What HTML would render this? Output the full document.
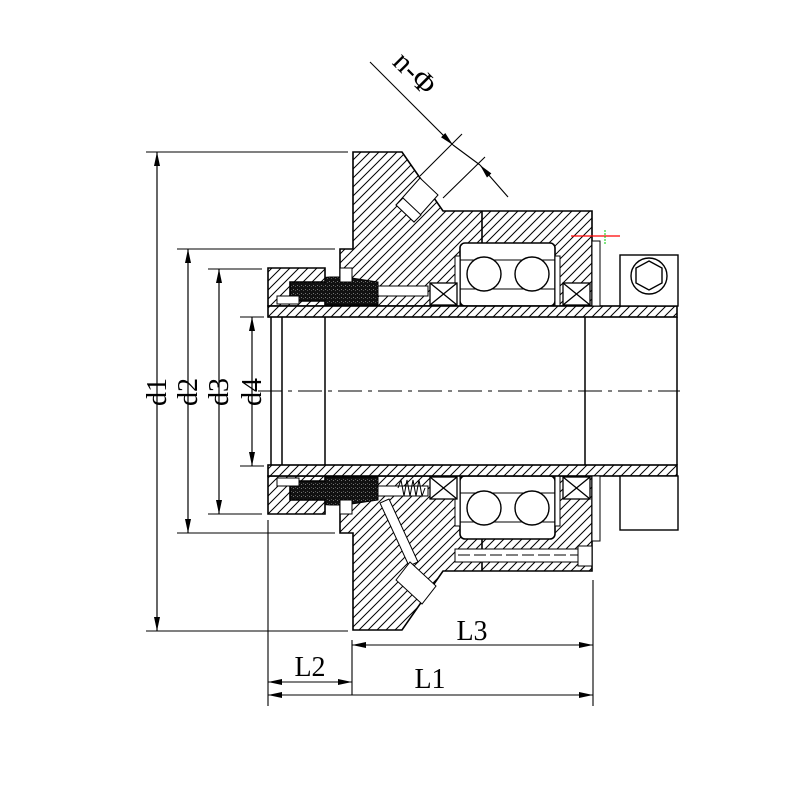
<!DOCTYPE html>
<html><head><meta charset="utf-8"><style>html,body{margin:0;padding:0;background:#fff}svg{display:block}</style></head><body>
<svg width="800" height="800" viewBox="0 0 800 800" xmlns="http://www.w3.org/2000/svg" font-family="Liberation Serif, serif">
<defs>
<pattern id="h1" width="9" height="9" patternUnits="userSpaceOnUse">
<rect width="9" height="9" fill="#fff"/><path d="M0,9L9,0M-2,2L2,-2M7,11L11,7" stroke="#000" stroke-width="1"/></pattern>
<pattern id="h2" width="9" height="9" patternUnits="userSpaceOnUse">
<rect width="9" height="9" fill="#fff"/><path d="M0,0L9,9M-2,7L2,11M7,-2L11,2" stroke="#000" stroke-width="1"/></pattern>
<pattern id="s" width="4" height="4" patternUnits="userSpaceOnUse"><rect width="4" height="4" fill="#111"/><rect x="1" y="1" width="1" height="1" fill="#777"/><rect x="3" y="2" width="1" height="1" fill="#555"/></pattern>
<marker id="a" viewBox="0 0 14 6" refX="14" refY="3" markerWidth="14" markerHeight="6" markerUnits="userSpaceOnUse" orient="auto"><path d="M0,0L14,3L0,6z" fill="#000"/></marker>
</defs>

<g>
<path d="M353,152H402L443,211H592V306H340V249H353Z" fill="url(#h1)" stroke="#000" stroke-width="1.6"/>
<line x1="482" y1="211" x2="482" y2="243" stroke="#000" stroke-width="1.6"/>
<path d="M396,205L420,178L438,195L414,222Z" fill="#fff" stroke="#000"/>
<path d="M396,205L403,198L421,215L414,222Z" fill="#fff" stroke="#000"/>
<rect x="460" y="243" width="95" height="63" rx="5" fill="#fff" stroke="#000" stroke-width="1.6"/>
<line x1="460" y1="260" x2="555" y2="260" stroke="#000"/><line x1="460" y1="289" x2="555" y2="289" stroke="#000"/>
<circle cx="484" cy="274" r="17" fill="#fff" stroke="#000" stroke-width="1.4"/>
<circle cx="532" cy="274" r="17" fill="#fff" stroke="#000" stroke-width="1.4"/>
<rect x="455" y="256" width="5" height="50" fill="#fff" stroke="#000"/>
<rect x="555" y="256" width="5" height="50" fill="#fff" stroke="#000"/>
<g fill="#fff" stroke="#000" stroke-width="1.3"><rect x="430" y="283" width="27" height="22"/><path d="M430,283L457,305M457,283L430,305" fill="none"/>
<rect x="563" y="283" width="27" height="22"/><path d="M563,283L590,305M590,283L563,305" fill="none"/></g>
<path d="M290,280L330,277L345,277L378,282V305H290Z" fill="url(#s)" stroke="#000"/>
<rect x="378" y="286" width="50" height="10" fill="#fff" stroke="#000"/>
<rect x="340" y="268" width="12" height="14" fill="#fff" stroke="#000"/>
<path d="M268,268H325V282H290V301H325V306H268Z" fill="url(#h1)" stroke="#000" stroke-width="1.6"/>
<rect x="277" y="296" width="22" height="8" fill="#fff" stroke="#000"/>
<rect x="268" y="306" width="409" height="11" fill="url(#h1)" stroke="#000" stroke-width="1.6"/>
<rect x="592" y="241" width="8" height="65" fill="#fff" stroke="#000"/>
</g>

<g transform="matrix(1,0,0,-1,0,782)">
<path d="M353,152H402L443,211H592V306H340V249H353Z" fill="url(#h2)" stroke="#000" stroke-width="1.6"/>
<line x1="482" y1="211" x2="482" y2="243" stroke="#000" stroke-width="1.6"/>
<rect x="460" y="243" width="95" height="63" rx="5" fill="#fff" stroke="#000" stroke-width="1.6"/>
<line x1="460" y1="260" x2="555" y2="260" stroke="#000"/><line x1="460" y1="289" x2="555" y2="289" stroke="#000"/>
<circle cx="484" cy="274" r="17" fill="#fff" stroke="#000" stroke-width="1.4"/>
<circle cx="532" cy="274" r="17" fill="#fff" stroke="#000" stroke-width="1.4"/>
<rect x="455" y="256" width="5" height="50" fill="#fff" stroke="#000"/>
<rect x="555" y="256" width="5" height="50" fill="#fff" stroke="#000"/>
<g fill="#fff" stroke="#000" stroke-width="1.3"><rect x="430" y="283" width="27" height="22"/><path d="M430,283L457,305M457,283L430,305" fill="none"/>
<rect x="563" y="283" width="27" height="22"/><path d="M563,283L590,305M590,283L563,305" fill="none"/></g>
<path d="M290,280L330,277L345,277L378,282V305H290Z" fill="url(#s)" stroke="#000"/>
<rect x="378" y="286" width="50" height="10" fill="#fff" stroke="#000"/>
<rect x="340" y="268" width="12" height="14" fill="#fff" stroke="#000"/>
<path d="M268,268H325V282H290V301H325V306H268Z" fill="url(#h2)" stroke="#000" stroke-width="1.6"/>
<rect x="277" y="296" width="22" height="8" fill="#fff" stroke="#000"/>
<rect x="268" y="306" width="409" height="11" fill="url(#h2)" stroke="#000" stroke-width="1.6"/>
<rect x="592" y="241" width="8" height="65" fill="#fff" stroke="#000"/>
</g>

<g fill="#fff" stroke="#000" stroke-width="1.4">
<rect x="620" y="255" width="58" height="51"/>
<circle cx="649" cy="276" r="18"/><polygon points="649,261 662,268 662,283 649,290 636,283 636,268"/>
</g>
<line x1="571" y1="236" x2="620" y2="236" stroke="red" stroke-width="1.2"/>
<line x1="605" y1="230" x2="605" y2="244" stroke="#0c0" stroke-width="1" stroke-dasharray="2,1"/>
<rect x="620" y="476" width="58" height="54" fill="#fff" stroke="#000" stroke-width="1.4"/>
<rect x="455" y="549" width="125" height="13" fill="#fff" stroke="#000"/>
<line x1="458" y1="555" x2="578" y2="555" stroke="#000" stroke-dasharray="12,4"/>
<rect x="578" y="546" width="14" height="20" fill="#fff" stroke="#000"/>
<path d="M398,488 l3,-8 l3,16 l3,-16 l3,16 l3,-16 l3,16 l3,-16 l3,16 l3,-8" fill="none" stroke="#000"/>
<path d="M380,503L409,566L418,562L389,499Z" fill="#fff" stroke="#000"/>
<path d="M396,580L410,562L436,586L422,604Z" fill="#fff" stroke="#000"/>

<g stroke="#000" stroke-width="1.5" fill="none">
<line x1="325" y1="317" x2="325" y2="465"/>
<line x1="585" y1="317" x2="585" y2="465"/>
<line x1="677" y1="317" x2="677" y2="465"/>
<line x1="271" y1="317" x2="271" y2="465"/><line x1="282" y1="317" x2="282" y2="465"/>
</g>
<line x1="258" y1="391" x2="680" y2="391" stroke="#000" stroke-dasharray="24,6,4,6"/>

<g stroke="#000" stroke-width="1.1">
<line x1="146" y1="152" x2="348" y2="152"/><line x1="146" y1="631" x2="348" y2="631"/>
<line x1="177" y1="249" x2="335" y2="249"/><line x1="177" y1="533" x2="335" y2="533"/>
<line x1="208" y1="269" x2="262" y2="269"/><line x1="208" y1="514" x2="262" y2="514"/>
<line x1="240" y1="317" x2="264" y2="317"/><line x1="240" y1="466" x2="264" y2="466"/>
<line x1="157" y1="152" x2="157" y2="631" marker-end="url(#a)"/>
<line x1="188" y1="249" x2="188" y2="533" marker-end="url(#a)"/>
<line x1="219" y1="269" x2="219" y2="514" marker-end="url(#a)"/>
<line x1="252" y1="317" x2="252" y2="466" marker-end="url(#a)"/>
<line x1="157" y1="631" x2="157" y2="152" marker-end="url(#a)"/>
<line x1="188" y1="533" x2="188" y2="249" marker-end="url(#a)"/>
<line x1="219" y1="514" x2="219" y2="269" marker-end="url(#a)"/>
<line x1="252" y1="466" x2="252" y2="317" marker-end="url(#a)"/>
<line x1="268" y1="520" x2="268" y2="706"/>
<line x1="352" y1="640" x2="352" y2="695"/>
<line x1="593" y1="580" x2="593" y2="706"/>
<line x1="352" y1="645" x2="593" y2="645" marker-end="url(#a)"/>
<line x1="593" y1="645" x2="352" y2="645" marker-end="url(#a)"/>
<line x1="268" y1="682" x2="352" y2="682" marker-end="url(#a)"/>
<line x1="352" y1="682" x2="268" y2="682" marker-end="url(#a)"/>
<line x1="268" y1="695" x2="593" y2="695" marker-end="url(#a)"/>
<line x1="593" y1="695" x2="268" y2="695" marker-end="url(#a)"/>
<line x1="370" y1="62" x2="453" y2="145" marker-end="url(#a)"/>
<line x1="508" y1="197" x2="480" y2="165" marker-end="url(#a)"/>
<line x1="453" y1="145" x2="480" y2="165"/>
<line x1="420" y1="176" x2="462" y2="134"/>
<line x1="443" y1="198" x2="485" y2="157"/>
</g>
<g font-size="28" fill="#000">
<text transform="translate(166,392) rotate(-90)" text-anchor="middle">d1</text>
<text transform="translate(197,392) rotate(-90)" text-anchor="middle">d2</text>
<text transform="translate(228,392) rotate(-90)" text-anchor="middle">d3</text>
<text transform="translate(261,392) rotate(-90)" text-anchor="middle">d4</text>
<text x="472" y="640" text-anchor="middle">L3</text>
<text x="310" y="676" text-anchor="middle">L2</text>
<text x="430" y="688" text-anchor="middle">L1</text>
<text transform="translate(408,80) rotate(45)" text-anchor="middle" font-size="30">n-Φ</text>
</g>
</svg>
</body></html>
